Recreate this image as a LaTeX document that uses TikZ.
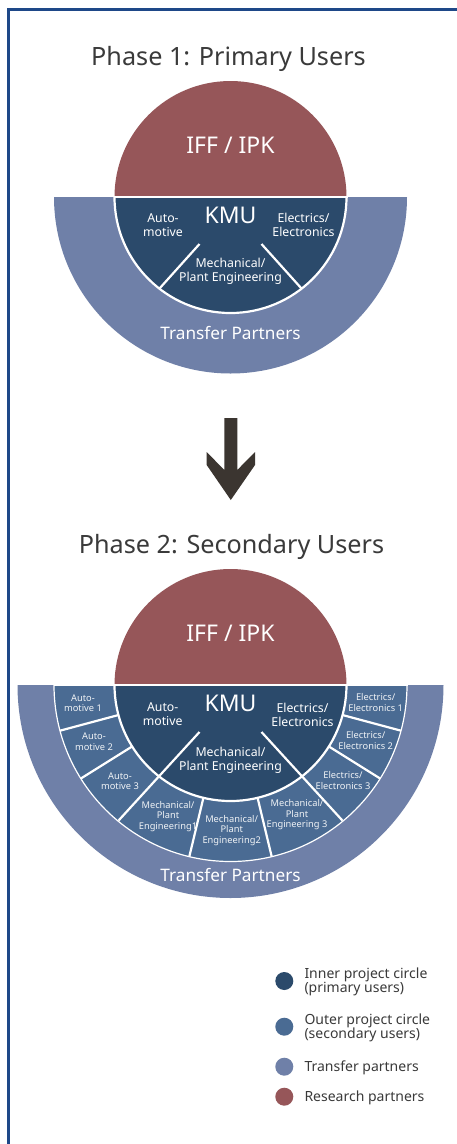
\documentclass[tikz,border=0pt]{standalone}
\usepackage{fontspec}
\setmainfont{Noto Sans}
\definecolor{redp}{HTML}{965659}
\definecolor{innerc}{HTML}{2B4A6B}
\definecolor{outerc}{HTML}{4A6B93}
\definecolor{transc}{HTML}{6F80A8}
\definecolor{framec}{HTML}{1E4888}
\definecolor{txtc}{HTML}{3A3A3A}
\definecolor{arrc}{HTML}{3B3530}
\newcommand{\fs}[2]{\fontsize{#1}{#2}\selectfont}
\begin{document}
\begin{tikzpicture}[x=1pt,y=-1pt,
  wl/.style={white,line width=2.2pt},
  title/.style={inner sep=0,anchor=base,text=txtc,font=\fs{25.2}{30}},
  big/.style={inner sep=0,anchor=base,text=white,font=\fs{23}{28}},
  mid/.style={inner sep=0,align=center,text=white,font=\fs{12.3}{14}},
  tp/.style={inner sep=0,text=white,font=\fs{17.2}{20}},
  sml/.style={inner sep=0,align=center,text=white!92!outerc,font=\fs{9.3}{10.5}},
  leg/.style={inner sep=0,anchor=west,align=left,text=txtc,font=\fs{14}{14}},
  dot/.style={circle,inner sep=0,minimum size=18pt}]
\useasboundingbox (0,0) rectangle (456,1144);
\fill[white] (0,0) rectangle (456,1144);
\draw[framec,line width=3pt] (8.5,1150) -- (8.5,9.7) -- (470,9.7);

% ---------- Phase 1 ----------
\node[title] (t1) at (228.5,65) {Phase 1: Primary Users};
\begin{scope}[shift={(230.5,197)}]
  \fill[transc] (176.5,0) arc[start angle=0,end angle=180,radius=176.5] -- cycle;
  \fill[redp] (-116,0) arc[start angle=180,end angle=360,radius=116] -- cycle;
  \fill[innerc] (116,0) arc[start angle=0,end angle=180,radius=116] -- cycle;
  \draw[wl] (116,0) arc[start angle=0,end angle=180,radius=116];
  \draw[wl] (-117,0) -- (117,0);
  \draw[wl] (-31,47) -- (-71,91.5);
  \draw[wl] (31,47) -- (71,91.5);
  \node[big] (iff1) at (0,-43.7) {IFF / IPK};
  \node[big] (kmu1) at (0,26.3) {KMU};
  \node[mid] (au1) at (-67.5,28) {Auto-\\motive};
  \node[mid] (el1) at (73,28) {Electrics/\\Electronics};
  \node[mid] (me1) at (0,74) {Mechanical/\\Plant Engineering};
  \node[tp] (tr1) at (0,136) {Transfer Partners};
\end{scope}

% ---------- arrow ----------
\fill[arrc] (224.3,418) -- (237.3,418) -- (237.3,470) -- (255,452) -- (255,465)
  -- (230.8,500) -- (206.7,465) -- (206.7,452) -- (224.3,470) -- cycle;

% ---------- Phase 2 ----------
\node[title] (t2) at (231.5,553) {Phase 2: Secondary Users};
\begin{scope}[shift={(230.5,685)}]
  \fill[transc] (213,0) arc[start angle=0,end angle=180,radius=213] -- cycle;
  \fill[outerc] (176.5,0) arc[start angle=0,end angle=180,radius=176.5] -- cycle;
  \draw[white,line width=1.2pt] (176.5,0) arc[start angle=0,end angle=180,radius=176.5];
  \fill[redp] (-116,0) arc[start angle=180,end angle=360,radius=116] -- cycle;
  \fill[innerc] (116,0) arc[start angle=0,end angle=180,radius=116] -- cycle;
  \draw[wl] (116,0) arc[start angle=0,end angle=180,radius=116];
  \draw[wl] (-177,0) -- (177,0);
  \draw[wl] (-31,47) -- (-112,135.6);
  \draw[wl] (31,47) -- (112,135.6);
  \foreach \a in {165,148,103.5,76.5,32,15}
    \draw[wl] (\a:116) -- (\a:176.5);
  \node[big] (iff2) at (0,-43.7) {IFF / IPK};
  \node[big] (kmu2) at (0,26.3) {KMU};
  \node[mid] (au2) at (-67.8,29.5) {Auto-\\motive};
  \node[mid] (el2) at (72,29.5) {Electrics/\\Electronics};
  \node[mid] (me2) at (0,75) {Mechanical/\\Plant Engineering};
  \node[tp] (tr2) at (0,190) {Transfer Partners};
  \node[sml] (a1) at (-147.5,18) {Auto-\\motive 1};
  \node[sml] (a2) at (-136.5,56.7) {Auto-\\motive 2};
  \node[sml] (a3) at (-110.5,96.3) {Auto-\\motive 3};
  \node[sml] (m1) at (-62.5,131.5) {Mechanical/\\Plant\\Engineering1};
  \node[sml] (m2) at (1.2,145.5) {Mechanical/\\Plant\\Engineering2};
  \node[sml] (m3) at (66.5,130) {Mechanical/\\Plant\\Engineering 3};
  \node[sml] (e3) at (112.5,95.3) {Electrics/\\Electronics 3};
  \node[sml] (e2) at (135.2,55.3) {Electrics/\\Electronics 2};
  \node[sml] (e1) at (145.2,17.5) {Electrics/\\Electronics 1};
\end{scope}

% ---------- legend ----------
\node[dot,fill=innerc] (d1) at (284.3,981) {};
\node[dot,fill=outerc] (d2) at (284.3,1026.7) {};
\node[dot,fill=transc] (d3) at (284.3,1066.7) {};
\node[dot,fill=redp] (d4) at (284.3,1096.7) {};
\node[leg] (l1) at (304.3,982) {Inner project circle\\(primary users)};
\node[leg] (l2) at (304.3,1028) {Outer project circle\\(secondary users)};
\node[leg] (l3) at (304.3,1068) {Transfer partners};
\node[leg] (l4) at (304.3,1098) {Research partners};
\end{tikzpicture}
\end{document}
